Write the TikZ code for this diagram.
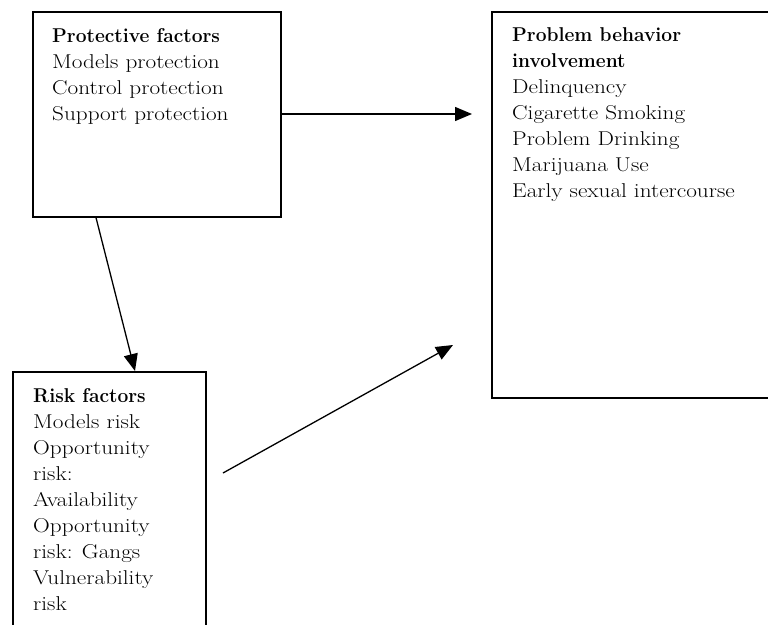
\documentclass[tikz,border=0pt]{standalone}
\usepackage{fontspec}
\setmainfont{Latin Modern Roman}[FakeStretch=1.16,BoldFeatures={FakeStretch=0.96}]
\usetikzlibrary{arrows.meta}
\begin{document}
\begin{tikzpicture}[x=1pt,y=-1pt,
  box/.style={draw,line width=1.6pt,rectangle,anchor=north west,inner sep=0pt},
  label/.style={anchor=north west,inner sep=0pt,align=left,font=\fontsize{20}{26}\selectfont},
  conn/.style={line width=1.3pt,-{Triangle[length=17pt,width=14pt]}}]
\clip (0,0) rectangle (768,624);
\fill[white] (0,0) rectangle (768,624);
\node[box,minimum width=248pt,minimum height=205pt] (prot) at (32,11) {};
\node[box,minimum width=280pt,minimum height=386pt] (prob) at (491,11) {};
\node[box,minimum width=193pt,minimum height=270pt] (risk) at (12,371) {};
\node[label] (protT) at (52,28) {\textbf{Protective factors}\\Models protection\\Control protection\\Support protection};
\node[label] (probT) at (512,27) {\textbf{Problem behavior}\\\textbf{involvement}\\Delinquency\\Cigarette Smoking\\Problem Drinking\\Marijuana Use\\Early sexual intercourse};
\node[label] (riskT) at (33,388) {\textbf{Risk factors}\\Models risk\\Opportunity\\risk:\\Availability\\Opportunity\\risk: Gangs\\Vulnerability\\risk};
\coordinate (a1end) at (472,114);
\coordinate (a2start) at ([xshift=64pt]prot.south west);
\coordinate (a2end) at ([xshift=123pt]risk.north west);
\coordinate (a3start) at (223,473);
\coordinate (a3end) at (453,345);
\draw[conn] (prot.east |- a1end) -- (a1end);
\draw[conn] (a2start) -- (a2end);
\draw[conn] (a3start) -- (a3end);
\end{tikzpicture}
\end{document}
